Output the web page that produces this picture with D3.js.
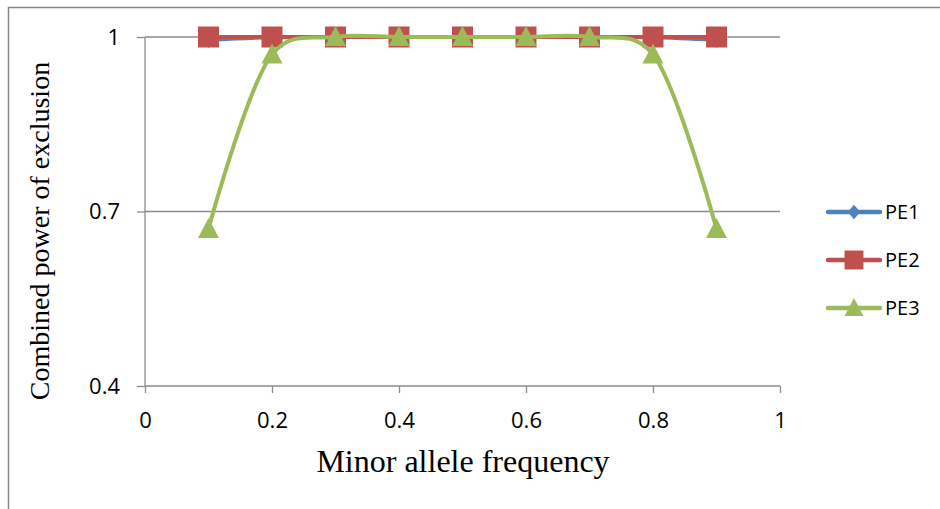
<!DOCTYPE html>
<html>
<head>
<meta charset="utf-8">
<script src="https://cdn.jsdelivr.net/npm/d3@7"></script>
<style>
  body { margin: 0; background: #fff; }
</style>
</head>
<body>
<svg width="940" height="509"></svg>
<script>
// data
var freqs = [0.1, 0.2, 0.3, 0.4, 0.5, 0.6, 0.7, 0.8, 0.9];
var pe1 = [0.995, 0.9995, 1, 1, 1, 1, 1, 0.9995, 0.995];
var pe2 = [1, 1, 1, 1, 1, 1, 1, 1, 1];
var pe3 = [0.67, 0.97, 1, 1, 1, 1, 1, 0.97, 0.67];
var seriesNames = ["PE1", "PE2", "PE3"];
var xTicks = [0, 0.2, 0.4, 0.6, 0.8, 1];
var yTicks = [0.4, 0.7, 1];

// excel-like marker shapes (size arg unused, fixed pixel sizes)
var diamond = { draw: function (c) { c.moveTo(0, -8); c.lineTo(7, 0); c.lineTo(0, 8); c.lineTo(-7, 0); c.closePath(); } };
var square = { draw: function (c) { c.rect(-10.5, -10.5, 21, 21); } };
var triangle = { draw: function (c) { c.moveTo(0, -11); c.lineTo(10.5, 9); c.lineTo(-10.5, 9); c.closePath(); } };

function main() {
  var svg = d3.select("svg");
  var left = 145, right = 780, top = 37, bottom = 386;

  var colors = ["#4F81BD", "#C0504D", "#9BBB59"];
  var shapes = [diamond, square, triangle];

  // outer chart border (right/bottom edges fall outside the picture)
  svg.append("rect")
    .attr("x", 8.5).attr("y", 7.5)
    .attr("width", 1000).attr("height", 1000)
    .attr("fill", "none").attr("stroke", "#868686").attr("stroke-width", 1.5);

  var x = d3.scaleLinear().domain([0, 1]).range([left, right]);
  var y = d3.scaleLinear().domain([0.4, 1]).range([bottom, top]);

  // gridlines
  svg.append("g")
    .selectAll("line")
    .data(yTicks.filter(d => d > 0.4))
    .join("line")
      .attr("x1", left).attr("x2", right)
      .attr("y1", d => y(d)).attr("y2", d => y(d))
      .attr("stroke", "#8c8c8c").attr("stroke-width", 1.3);

  // axes
  var xAxis = svg.append("g")
    .attr("transform", `translate(0,${bottom})`)
    .call(d3.axisBottom(x).tickValues(xTicks).tickSize(7).tickPadding(19).tickFormat(d => d));
  var yAxis = svg.append("g")
    .attr("transform", `translate(${left},0)`)
    .call(d3.axisLeft(y).tickValues(yTicks).tickSize(8).tickPadding(17).tickFormat(d => d));

  [xAxis, yAxis].forEach(function (g) {
    g.select(".domain").attr("stroke", "#8c8c8c").attr("stroke-width", 1.3);
    g.selectAll(".tick line").attr("stroke", "#8c8c8c").attr("stroke-width", 1.3);
    g.selectAll("text")
      .attr("fill", "#000")
      .style("font-family", "'Open Sans', 'Liberation Sans', sans-serif")
      .style("font-size", "22px");
  });
  yAxis.select(".domain").attr("d", `M0,${bottom}V${top}`);
  xAxis.select(".domain").attr("d", `M${left},0H${right}`);

  // axis titles
  svg.append("text")
    .attr("x", 463).attr("y", 472)
    .attr("text-anchor", "middle")
    .style("font-family", "'Liberation Serif', 'Times New Roman', serif")
    .style("font-size", "32px")
    .text("Minor allele frequency");
  svg.append("text")
    .attr("transform", "translate(49,231) rotate(-90)")
    .attr("text-anchor", "middle")
    .style("font-family", "'Liberation Serif', 'Times New Roman', serif")
    .style("font-size", "28px")
    .text("Combined power of exclusion");

  var allSeries = [pe1, pe2, pe3];
  var line = d3.line()
    .x((d, i) => x(freqs[i]))
    .y(d => y(d))
    .curve(d3.curveCatmullRom.alpha(0.2));

  allSeries.forEach(function (vals, k) {
    var g = svg.append("g");
    g.append("path")
      .datum(vals)
      .attr("d", line)
      .attr("fill", "none")
      .attr("stroke", colors[k])
      .attr("stroke-width", 4)
      .attr("stroke-linecap", "round");
    g.selectAll("path.mark")
      .data(vals)
      .join("path")
        .attr("class", "mark")
        .attr("transform", (d, i) => `translate(${x(freqs[i])},${y(d)})`)
        .attr("d", d3.symbol().type(shapes[k]))
        .attr("fill", colors[k]);
  });

  // legend
  var legend = svg.append("g");
  seriesNames.forEach(function (name, k) {
    var ly = 212 + k * 48;
    legend.append("line")
      .attr("x1", 828).attr("x2", 880)
      .attr("y1", ly).attr("y2", ly)
      .attr("stroke", colors[k]).attr("stroke-width", 4.5)
      .attr("stroke-linecap", "round");
    legend.append("path")
      .attr("transform", `translate(854,${ly}) scale(0.9)`)
      .attr("d", d3.symbol().type(shapes[k]))
      .attr("fill", colors[k]);
    legend.append("text")
      .attr("x", 885).attr("y", ly + 7)
      .style("font-family", "'Open Sans', 'Liberation Sans', sans-serif")
      .style("font-size", "20px")
      .text(name);
  });
}
main();
</script>
</body>
</html>
